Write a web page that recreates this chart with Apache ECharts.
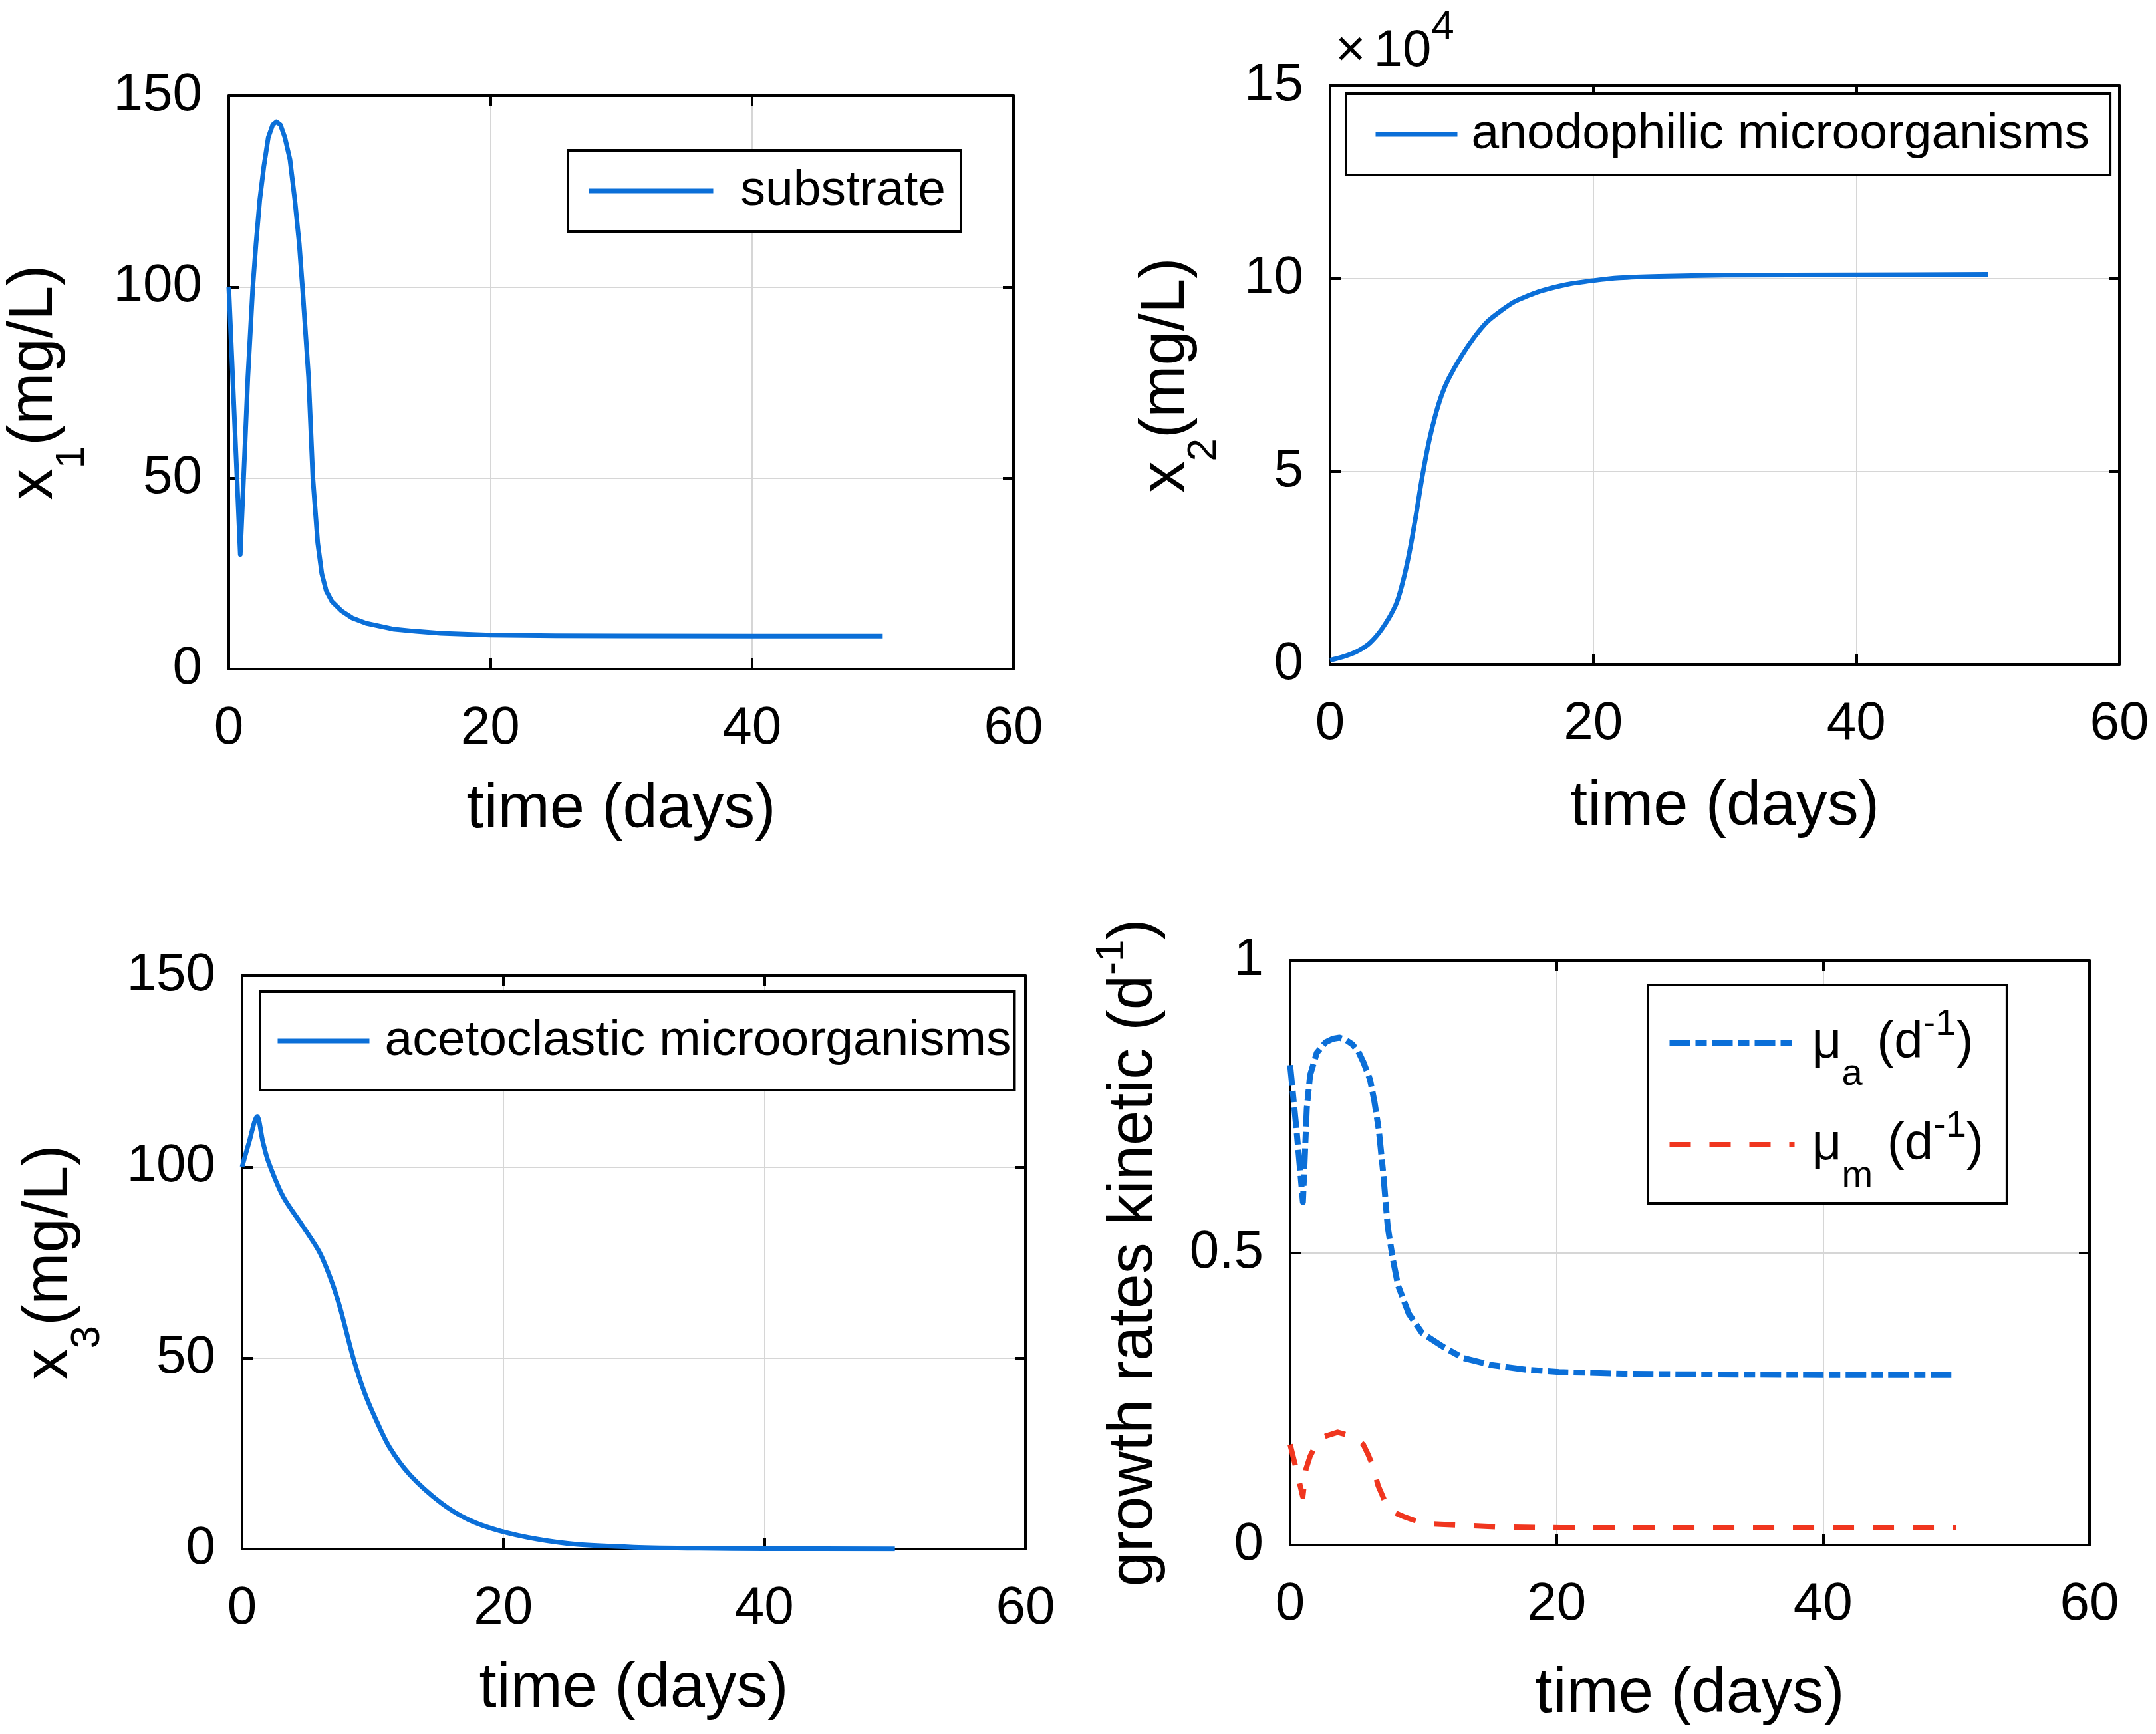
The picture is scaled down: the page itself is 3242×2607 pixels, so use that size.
<!DOCTYPE html>
<html>
<head>
<meta charset="utf-8">
<script src="https://cdn.jsdelivr.net/npm/echarts@6/dist/echarts.min.js"></script>
<style>
html,body{margin:0;padding:0;background:#fff;}
#c{width:3242px;height:2607px;}
</style>
</head>
<body>
<div id="c"></div>
<script>
// ---- data ----
const timeAxis = { min: 0, max: 60, interval: 20 };
const x1Axis = { min: 0, max: 150, interval: 50 };
const x2Axis = { min: 0, max: 150000, interval: 50000 };
const x3Axis = { min: 0, max: 150, interval: 50 };
const muAxis = { min: 0, max: 1, interval: 0.5 };

// substrate x1 (mg/L) vs time (days)
const substrate = [
  [0,100],[0.44,65],[0.88,30],[1.17,53],[1.46,76.4],[1.83,99.6],[2.08,111.2],[2.37,122.8],
  [2.68,131.5],[3.02,139.1],[3.36,142.4],[3.64,143.2],[3.95,142.4],[4.29,139.1],[4.68,133.3],
  [5.05,122.8],[5.39,111.2],[5.64,99.6],[6.1,76.4],[6.43,50],[6.8,33],[7.11,25],[7.45,20.5],
  [7.89,17.7],[8.6,15.3],[9.44,13.4],[10.5,12.0],[12.56,10.5],[14.3,9.9],[16.2,9.4],[20,8.9],
  [25,8.75],[30,8.7],[40,8.65],[50,8.65]
];
// anodophilic microorganisms x2 (mg/L)
const anodophilic = [
  [0,1100],[1,2000],[2,3300],[3,5500],[4,9500],[5,15500],[5.5,21000],[6,28500],[6.5,38000],
  [7,48500],[7.5,57500],[8,64500],[8.5,70000],[9,74000],[10,80000],[11,85000],[12,89000],
  [13,91700],[14,94000],[15,95500],[16,96800],[18,98500],[20,99500],[22,100200],[25,100600],
  [30,100900],[40,101000],[50,101100]
];
// acetoclastic microorganisms x3 (mg/L)
const acetoclastic = [
  [0,100],[0.5,106],[1.16,113.2],[1.58,106.7],[2.0,101.5],[3.15,92.2],[4.57,84.9],[5.94,77.6],
  [6.83,70.3],[7.51,63.1],[8.51,50.1],[9.35,41.2],[10.25,33.9],[11.3,26.6],[12.87,19.4],
  [15.24,12.1],[17.34,7.7],[19.7,4.8],[22.6,2.6],[25.7,1.2],[30,0.5],[35,0.2],[40,0.1],[50,0.05]
];
// growth rates (1/d)
const muA = [
  [0,0.821],[0.48,0.71],[0.96,0.587],[1.25,0.747],[1.5,0.804],[2.0,0.842],[2.66,0.860],[3.2,0.866],
  [3.71,0.868],[4.2,0.864],[4.65,0.857],[5.1,0.845],[5.5,0.826],[6.0,0.796],[6.33,0.758],[6.66,0.709],
  [7.0,0.633],[7.32,0.545],[7.7,0.49],[8.1,0.444],[8.9,0.396],[9.9,0.363],[11.5,0.339],[13.0,0.320],
  [15.1,0.308],[17.7,0.300],[20.2,0.296],[25,0.293],[30,0.292],[40,0.291],[50,0.291]
];
const muM = [
  [0,0.172],[0.48,0.128],[0.95,0.083],[1.19,0.130],[1.5,0.152],[1.82,0.166],[2.6,0.186],[3.57,0.193],
  [4.5,0.187],[5.0,0.181],[5.49,0.172],[5.85,0.155],[6.2,0.136],[6.6,0.102],[7.24,0.068],[7.8,0.056],
  [8.5,0.049],[9.93,0.0375],[11.3,0.0355],[12.8,0.034],[15.8,0.031],[20.3,0.0296],[30,0.0295],
  [40,0.0295],[50,0.0295]
];

// ---- styling ----
const FONT = "'Liberation Sans', Arial, Helvetica, sans-serif";
const BLUE = '#0b6fd8';
const RED = '#f0361f';
const GRIDC = '#d6d6d6';

const grids = [
  { left: 344, top: 144, width: 1180, height: 862 },
  { left: 2000, top: 129, width: 1187, height: 870 },
  { left: 364, top: 1467, width: 1178, height: 862 },
  { left: 1940, top: 1444, width: 1202, height: 879 }
];

function baseAxis(gi, rng, pos) {
  return {
    gridIndex: gi, type: 'value', min: rng.min, max: rng.max, interval: rng.interval,
    position: pos,
    axisLine: { show: true, onZero: false, lineStyle: { color: '#000', width: 4 } },
    axisTick: { show: true, inside: true, length: 16, lineStyle: { color: '#000', width: 4 } },
    splitLine: { show: false },
    axisLabel: { show: false },
    nameMoveOverlap: false
  };
}

const xAxes = [];
const yAxes = [];
const xNameGaps = [165, 168, 164, 178];
const yCfg = [
  { rng: x1Axis, name: '{m|x}{s|1}{m|(mg/L)}', gap: 202, sub: true },
  { rng: x2Axis, name: '{m|x}{s|2}{m|(mg/L)}', gap: 156, sub: true, fmt: v => String(v / 10000) },
  { rng: x3Axis, name: '{m|x}{s|3}{m|(mg/L)}', gap: 199, sub: true },
  { rng: muAxis, name: '{m|growth rates kinetic (d}{p|-1}{m|)}', gap: 170, sub: false }
];

for (let i = 0; i < 4; i++) {
  const xb = baseAxis(i, timeAxis, 'bottom');
  xb.axisLabel = { show: true, fontSize: 80, color: '#000', fontFamily: FONT, margin: 50 };
  xb.splitLine = { show: true, lineStyle: { color: GRIDC, width: 2 } };
  xb.name = 'time (days)';
  xb.nameLocation = 'middle';
  xb.nameGap = xNameGaps[i];
  xb.nameTextStyle = { fontSize: 94, color: '#000', fontFamily: FONT };
  xAxes.push(xb);
  xAxes.push(baseAxis(i, timeAxis, 'top'));

  const c = yCfg[i];
  const yl = baseAxis(i, c.rng, 'left');
  yl.axisLabel = { show: true, fontSize: 80, color: '#000', fontFamily: FONT, margin: 40 };
  if (c.fmt) yl.axisLabel.formatter = c.fmt;
  yl.splitLine = { show: true, lineStyle: { color: GRIDC, width: 2 } };
  yl.name = c.name;
  yl.nameLocation = 'middle';
  yl.nameGap = c.gap;
  if (c.sub) {
    yl.nameTextStyle = {
      color: '#000', fontFamily: FONT,
      rich: {
        m: { fontSize: 94, lineHeight: 180, fontFamily: FONT, color: '#000' },
        s: { fontSize: 62, lineHeight: 62, verticalAlign: 'bottom', padding: [0, 0, 2, 0], fontFamily: FONT, color: '#000' }
      }
    };
  } else {
    yl.nameTextStyle = {
      color: '#000', fontFamily: FONT,
      rich: {
        m: { fontSize: 94, lineHeight: 128, fontFamily: FONT, color: '#000' },
        p: { fontSize: 60, lineHeight: 60, verticalAlign: 'top', fontFamily: FONT, color: '#000' }
      }
    };
  }
  yAxes.push(yl);
  yAxes.push(baseAxis(i, c.rng, 'right'));
}

function legendBox(o) {
  return Object.assign({
    show: true, orient: 'vertical', itemHeight: 20, backgroundColor: '#fff',
    borderColor: '#000', borderWidth: 4, borderRadius: 0, selectedMode: false,
    itemStyle: { opacity: 0 }
  }, o);
}

const legends = [
  legendBox({ left: 854, top: 226, padding: [16, 23, 16, 28], itemWidth: 187,
    data: [{ name: 'substrate', lineStyle: { width: 7 } }],
    textStyle: { fontSize: 75, color: '#000', fontFamily: FONT, lineHeight: 90, padding: [0, 0, 0, 36] } }),
  legendBox({ left: 2024, top: 141, padding: [16, 31, 16, 41], itemWidth: 123,
    data: [{ name: 'anodophilic microorganisms', lineStyle: { width: 7 } }],
    textStyle: { fontSize: 75, color: '#000', fontFamily: FONT, lineHeight: 90, padding: [0, 0, 0, 16] } }),
  legendBox({ left: 391, top: 1491, padding: [29, 5, 29, 23], itemWidth: 138,
    data: [{ name: 'acetoclastic microorganisms', lineStyle: { width: 7 } }],
    textStyle: { fontSize: 75, color: '#000', fontFamily: FONT, lineHeight: 90, padding: [0, 0, 0, 18] } }),
  legendBox({ left: 2478, top: 1481, padding: [11, 35, 12, 28], itemWidth: 188, itemGap: 1,
    data: [{ name: 'mu_a', lineStyle: { width: 9 } }, { name: 'mu_m', lineStyle: { width: 8 } }],
    formatter: n => n === 'mu_a' ? '{m|\u03bc}{s|a}{m| (d}{p|-1}{m|)}' : '{m|\u03bc}{s|m}{m| (d}{p|-1}{m|)}',
    textStyle: { color: '#000', fontFamily: FONT, padding: [0, 0, 0, 21],
      rich: {
        m: { fontSize: 78, lineHeight: 152, fontFamily: FONT, color: '#000' },
        s: { fontSize: 56, lineHeight: 56, verticalAlign: 'bottom', fontFamily: FONT, color: '#000' },
        p: { fontSize: 56, lineHeight: 56, verticalAlign: 'top', padding: [21, 0, 0, 0], fontFamily: FONT, color: '#000' }
      } } })
];

function lineSeries(name, data, gi, color, width, dash, smooth) {
  return {
    name, type: 'line', data, xAxisIndex: gi * 2, yAxisIndex: gi * 2,
    symbol: 'none', showSymbol: false, smooth: smooth || false,
    animation: false,
    lineStyle: { color, width, type: dash || 'solid', cap: 'butt', join: 'round' },
    itemStyle: { color }
  };
}

const option = {
  animation: false,
  backgroundColor: '#fff',
  title: {
    text: '{a|\u00d7}{b|10}{c|4}', left: 2008, top: 11, padding: 0,
    textStyle: {
      fontWeight: 'normal', color: '#000', fontFamily: FONT,
      rich: {
        a: { fontSize: 78, lineHeight: 132, fontWeight: 'normal', padding: [0, 12, 0, 0], fontFamily: FONT, color: '#000' },
        b: { fontSize: 78, lineHeight: 132, fontWeight: 'normal', fontFamily: FONT, color: '#000' },
        c: { fontSize: 62, lineHeight: 62, fontWeight: 'normal', verticalAlign: 'top', fontFamily: FONT, color: '#000' }
      }
    }
  },
  grid: grids.map(g => Object.assign({ containLabel: false, outerBoundsMode: 'none' }, g)),
  xAxis: xAxes,
  yAxis: yAxes,
  legend: legends,
  series: [
    lineSeries('substrate', substrate, 0, BLUE, 7),
    lineSeries('anodophilic microorganisms', anodophilic, 1, BLUE, 7, null, 0.3),
    lineSeries('acetoclastic microorganisms', acetoclastic, 2, BLUE, 7, null, 0.3),
    lineSeries('mu_a', muA, 3, BLUE, 9, [31, 8, 17, 8]),
    lineSeries('mu_m', muM, 3, RED, 8, [32, 28])
  ]
};

const chart = echarts.init(document.getElementById('c'), null, { renderer: 'canvas', width: 3242, height: 2607 });
chart.setOption(option);
</script>
</body>
</html>
